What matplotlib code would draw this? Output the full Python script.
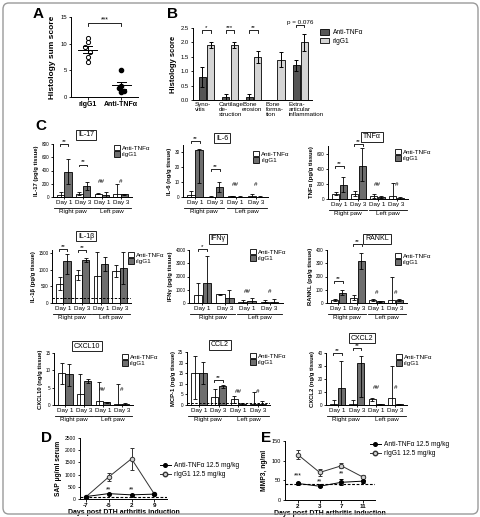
import matplotlib
matplotlib.use('Agg')
import matplotlib.pyplot as plt
from matplotlib.patches import FancyBboxPatch, Patch
from matplotlib.lines import Line2D
import numpy as np

plt.rcParams['font.family'] = ['Liberation Sans', 'DejaVu Sans']
plt.rcParams['axes.linewidth'] = 0.7
for a in ['xtick', 'ytick']:
    plt.rcParams[a + '.major.width'] = 0.6
    plt.rcParams[a + '.major.size'] = 1.8
    plt.rcParams[a + '.major.pad'] = 1

# ---------------- DATA ----------------
# Panel A
a_groups = ['rIgG1', 'Anti-TNFα']
a_rig = [11.1, 10.4, 9.4, 8.4, 7.5, 6.6]
a_anti = [5.0, 2.0, 1.6, 1.2, 1.0]

# Panel B
b_cats = ['Syno-\nvitis', 'Cartilage\nde-\nstruction', 'Bone\nerosion',
          'Bone\nforma-\ntion', 'Extra-\narticular\ninflammation']
b_anti = [0.8, 0.1, 0.1, 0.0, 1.2]
b_anti_err = [0.35, 0.1, 0.1, 0.0, 0.2]
b_rig = [1.9, 1.9, 1.5, 1.4, 2.0]
b_rig_err = [0.1, 0.1, 0.2, 0.25, 0.3]

# Panel C
c_days = ['Day 1', 'Day 3', 'Day 1', 'Day 3']
c_paws = ['Right paw', 'Left paw']

il17_anti = [35, 51, 51, 40]
il17_anti_err = [[35, 26, 10, 40], [40, 26, 10, 150]]
il17_rig = [383, 168, 36, 40]
il17_rig_err = [[190, 56, 36, 10], [194, 51, 40, 10]]

il6_anti = [1.6, 0.2, 0.7, 0.5]
il6_anti_err = [[1.6, 0.2, 0.7, 0.5], [2.2, 0.2, 0.3, 1.3]]
il6_rig = [31.6, 6.7, 0.3, 0.3]
il6_rig_err = [[22.1, 3.4, 0.3, 0.3], [0.6, 3.7, 0.3, 0.3]]

tnf_anti = [72, 72, 36, 40]
tnf_anti_err = [[18, 32, 20, 40], [18, 40, 27, 171]]
tnf_rig = [179, 435, 27, 9]
tnf_rig_err = [[80, 202, 15, 9], [108, 238, 18, 13]]

il1b_anti = [560, 860, 830, 960]
il1b_anti_err = [[160, 160, 830, 180], [220, 140, 700, 200]]
il1b_rig = [1260, 1300, 1180, 1060]
il1b_rig_err = [[380, 70, 220, 480], [220, 60, 220, 470]]

ifng_anti = [575, 650, 75, 100]
ifng_anti_err = [[575, 75, 75, 60], [925, 50, 175, 125]]
ifng_rig = [1500, 400, 150, 100]
ifng_rig_err = [[1500, 400, 150, 100], [2075, 600, 200, 225]]

rankl_anti = [20, 38, 20, 20]
rankl_anti_err = [[7, 18, 6, 20], [8, 20, 8, 177]]
rankl_rig = [78, 316, 13, 20]
rankl_rig_err = [[20, 63, 5, 6], [18, 64, 5, 8]]

cxcl10_anti = [9.1, 3.1, 1.15, 0.4]
cxcl10_anti_err = [[2.9, 3.1, 1.15, 0.4], [2.9, 5.7, 5.35, 5.6]]
cxcl10_rig = [8.8, 6.9, 0.8, 0.3]
cxcl10_rig_err = [[3.2, 0.65, 0.3, 0.2], [3.0, 0.6, 0.2, 0.2]]

ccl2_anti = [14.9, 3.9, 2.7, 0.5]
ccl2_anti_err = [[11.9, 3.9, 1.7, 0.5], [8.1, 3.6, 1.7, 5.5]]
ccl2_rig = [15.0, 9.0, 0.5, 0.5]
ccl2_rig_err = [[5.0, 1.0, 0.3, 0.4], [5.3, 0.4, 0.3, 1.5]]

cxcl2_anti = [0.8, 0.8, 4.4, 5.6]
cxcl2_anti_err = [[0.8, 0.8, 1.4, 5.6], [3.2, 3.0, 0.7, 24.4]]
cxcl2_rig = [13.3, 32.0, 0.5, 0.5]
cxcl2_rig_err = [[13.3, 25.6, 0.3, 0.3], [20.7, 5.7, 0.3, 0.3]]

# Panel D
d_days = ['-7', '-5', '2', '9']
d_anti = [100, 220, 170, 200]
d_anti_err = [15, 30, 25, 25]
d_rig = [80, 900, 1650, 200]
d_rig_err = [20, 150, 450, 30]
d_baseline = 100

# Panel E
e_days = ['2', '3', '7', '11']
e_anti = [42, 35, 45, 48]
e_anti_err = [3, 3, 8, 4]
e_rig = [115, 70, 87, 58]
e_rig_err = [12, 8, 6, 6]
e_baseline = 40

# ---------------- FIGURE ----------------
W, H = 481, 517
fig = plt.figure(figsize=(W / 100, H / 100), dpi=100)
fig.patches.append(FancyBboxPatch((3 / W, 3 / H), (W - 6) / W, (H - 6) / H,
                                  boxstyle='round,pad=0,rounding_size=0.012',
                                  transform=fig.transFigure, fc='none',
                                  ec='#9a9a9a', lw=1.0))


def add_ax(x0, x1, y0, y1):
    ax = fig.add_axes([x0 / W, 1 - y1 / H, (x1 - x0) / W, (y1 - y0) / H])
    ax.spines['top'].set_visible(False)
    ax.spines['right'].set_visible(False)
    ax.patch.set_alpha(0)
    return ax


def ftext(x, y, s, **kw):
    return fig.text(x / W, 1 - y / H, s, **kw)


def bracket(ax, x0, x1, y, txt, h, fs=4.5, lw=0.6):
    ax.plot([x0, x0, x1, x1], [y - h, y, y, y - h], color='k', lw=lw,
            clip_on=False)
    ax.text((x0 + x1) / 2, y, txt, ha='center', va='bottom', fontsize=fs,
            clip_on=False)


def letter(x, y, s):
    ftext(x, y, s, fontsize=11, fontweight='bold', ha='left', va='center')


# Panel A
letter(33, 14, 'A')
axA = add_ax(71, 138, 17, 97)
off_rig = [0.0, 0.0, -0.07, 0.07, 0.0, 0.0]
off_anti = [0.0, 0.0, -0.07, 0.07, 0.0]
axA.scatter(np.zeros(len(a_rig)) + off_rig, a_rig, s=9, facecolors='white',
            edgecolors='k', linewidths=0.7, zorder=3)
axA.scatter(np.ones(len(a_anti)) + off_anti, a_anti, s=9, color='k', zorder=3)
for i, vals in enumerate([a_rig, a_anti]):
    m = np.mean(vals)
    se = np.std(vals, ddof=1) / np.sqrt(len(vals))
    axA.plot([i - 0.28, i + 0.28], [m, m], color='k', lw=0.7, zorder=4)
    axA.plot([i, i], [m - se, m + se], color='k', lw=0.7, zorder=4)
    axA.plot([i - 0.13, i + 0.13], [m + se, m + se], color='k', lw=0.7, zorder=4)
    axA.plot([i - 0.13, i + 0.13], [m - se, m - se], color='k', lw=0.7, zorder=4)
axA.set_xlim(-0.5, 1.5)
axA.set_ylim(0, 15)
axA.set_yticks([0, 5, 10, 15])
axA.set_xticks([0, 1])
axA.set_xticklabels(a_groups, fontsize=5, fontweight='bold')
axA.tick_params(axis='y', labelsize=4.2)
axA.set_ylabel('Histology sum score', fontsize=6, fontweight='bold', labelpad=3)
bracket(axA, 0, 1, 13.8, '***', 0.5, fs=5)

# Panel B
letter(167, 14, 'B')
axB = add_ax(193, 312, 28, 100)
xb = np.arange(len(b_cats))
axB.bar(xb - 0.18, b_anti, 0.3, color='#555555', edgecolor='k', lw=0.6,
        yerr=b_anti_err, capsize=1.5, error_kw=dict(elinewidth=0.7, capthick=0.7))
axB.bar(xb + 0.18, b_rig, 0.3, color='#d4d4d4', edgecolor='k', lw=0.6,
        yerr=b_rig_err, capsize=1.5, error_kw=dict(elinewidth=0.7, capthick=0.7))
axB.set_xlim(-0.57, 4.5)
axB.set_ylim(0, 2.5)
axB.set_yticks([0, 0.5, 1.0, 1.5, 2.0, 2.5])
axB.set_yticklabels(['0.0', '0.5', '1.0', '1.5', '2.0', '2.5'])
axB.tick_params(axis='y', labelsize=4.2)
axB.set_xticks([])
for i, lab in enumerate(b_cats):
    axB.text(i - 0.48, -0.07, lab, ha='left', va='top', fontsize=4.5,
             linespacing=0.95)
axB.set_ylabel('Histology score', fontsize=5.5, fontweight='bold', labelpad=3)
bracket(axB, -0.18, 0.18, 2.42, '*', 0.08)
bracket(axB, 0.82, 1.18, 2.42, '***', 0.08)
bracket(axB, 1.82, 2.18, 2.42, '**', 0.08)
bracket(axB, 3.82, 4.18, 2.62, 'p = 0.076', 0.08)
axB.legend([Patch(fc='#555555', ec='k', lw=0.6), Patch(fc='#d4d4d4', ec='k', lw=0.6)],
           ['Anti-TNFα', 'rIgG1'], loc='upper left',
           bbox_to_anchor=(320 / W, 1 - 29 / H), bbox_transform=fig.transFigure,
           frameon=False, fontsize=4.8, handlelength=1.4, handleheight=0.9,
           labelspacing=0.25, handletextpad=0.5, borderpad=0, borderaxespad=0)

# Panel C
letter(35, 126, 'C')
RIG_C = '#6e6e6e'


def panel_c(box, anti, anti_err, rig, rig_err, ymax, yticks, title, title_xy,
            ylabel, sigs, hashes, leg_xy, dashed=None):
    x0, x1, y0, y1 = box
    ax = add_ax(x0, x1, y0, y1)
    xs = np.arange(4)
    ax.bar(xs - 0.2, anti, 0.38, color='white', edgecolor='k', lw=0.6, zorder=2)
    ax.bar(xs + 0.2, rig, 0.38, color=RIG_C, edgecolor='k', lw=0.6, zorder=2)
    ax.errorbar(xs - 0.2, anti, yerr=anti_err, fmt='none', ecolor='k',
                elinewidth=0.6, capsize=1.4, capthick=0.6, zorder=3)
    ax.errorbar(xs + 0.2, rig, yerr=rig_err, fmt='none', ecolor='k',
                elinewidth=0.6, capsize=1.4, capthick=0.6, zorder=3)
    if dashed is not None:
        ax.axhline(dashed, ls=(0, (2.5, 1.5)), color='k', lw=0.7, zorder=4)
    ax.set_xlim(-0.6, 3.6)
    ax.set_ylim(0, ymax)
    ax.set_yticks(yticks)
    ax.tick_params(axis='y', labelsize=3.3, length=1.5)
    ax.set_xticks(xs)
    ax.set_xticklabels(c_days, fontsize=4.5)
    ax.tick_params(axis='x', length=1.5, pad=0.5)
    ax.set_ylabel(ylabel, fontsize=4.2, fontweight='bold', labelpad=2)
    hpx = y1 - y0
    trans = ax.get_xaxis_transform()
    ty = -10.5 / hpx
    for (a, b), lab in zip([(-0.55, 1.45), (1.55, 3.55)], c_paws):
        ax.plot([a, b], [ty, ty], transform=trans, color='k', lw=0.6,
                clip_on=False)
        ax.text((a + b) / 2, ty - 1.0 / hpx, lab, transform=trans, ha='center',
                va='top', fontsize=4.5)
    for i, y, s in sigs:
        bracket(ax, i - 0.22, i + 0.22, y, s, ymax * 0.035)
    for i, y, s in hashes:
        ax.text(i, y, s, ha='center', va='center', fontsize=4.5)
    ftext(title_xy[0], title_xy[1], title, ha='center', va='center', fontsize=5,
          bbox=dict(boxstyle='square,pad=0.25', fc='white', ec='k', lw=0.6))
    ax.legend([Patch(fc='white', ec='k', lw=0.6), Patch(fc=RIG_C, ec='k', lw=0.6)],
              ['Anti-TNFα', 'rIgG1'], loc='upper left',
              bbox_to_anchor=(leg_xy[0] / W, 1 - leg_xy[1] / H),
              bbox_transform=fig.transFigure, frameon=False, fontsize=4.5,
              handlelength=0.9, handleheight=0.9, labelspacing=0.1,
              handletextpad=0.4, borderpad=0, borderaxespad=0)
    return ax


panel_c((53, 132, 144, 197), il17_anti, il17_anti_err, il17_rig, il17_rig_err,
        800, [0, 200, 400, 600, 800], 'IL-17', (86, 135), 'IL-17 (pg/g tissue)',
        [(0, 800, '**'), (1, 490, '**')], [(2, 240, '##'), (3, 240, '#')],
        (114, 145))
panel_c((183, 268, 145, 197), il6_anti, il6_anti_err, il6_rig, il6_rig_err,
        35, [0, 10, 20, 30], 'IL-6', (222, 138), 'IL-6 (ng/g tissue)',
        [(0, 37.5, '**'), (1, 19, '**')], [(2, 8.5, '##'), (3, 8.5, '#')],
        (253, 151))
panel_c((328, 408, 146, 199), tnf_anti, tnf_anti_err, tnf_rig, tnf_rig_err,
        700, [0, 200, 400, 600], 'TNFα', (372, 137), 'TNFα (pg/g tissue)',
        [(0, 440, '**'), (1, 720, '**')], [(2, 185, '##'), (3, 185, '#')],
        (395, 149))
panel_c((52, 131, 250, 303), il1b_anti, il1b_anti_err, il1b_rig, il1b_rig_err,
        1600, [0, 500, 1000, 1500], 'IL-1β', (86, 236), 'IL-1β (pg/g tissue)',
        [(0, 1620, '**'), (1, 1590, '**')], [], (128, 252), dashed=160)
panel_c((189, 283, 250, 303), ifng_anti, ifng_anti_err, ifng_rig, ifng_rig_err,
        4000, [0, 1000, 2000, 3000, 4000], 'IFNγ', (218, 239),
        'IFNγ (pg/g tissue)', [(0, 4050, '*')],
        [(2, 850, '##'), (3, 850, '#')], (250, 249))
panel_c((327, 407, 250, 303), rankl_anti, rankl_anti_err, rankl_rig, rankl_rig_err,
        400, [0, 100, 200, 300, 400], 'RANKL', (377, 239),
        'RANKL (pg/g tissue)', [(0, 165, '**'), (1, 445, '**')],
        [(2, 80, '#'), (3, 80, '#')], (395, 253))
panel_c((54, 133, 353, 405), cxcl10_anti, cxcl10_anti_err, cxcl10_rig,
        cxcl10_rig_err, 15, [0, 5, 10, 15], 'CXCL10', (87, 346),
        'CXCL10 (ng/g tissue)', [], [(2, 4.6, '##'), (3, 4.6, '#')], (122, 354))
panel_c((187, 270, 352, 405), ccl2_anti, ccl2_anti_err, ccl2_rig, ccl2_rig_err,
        25, [0, 5, 10, 15, 20, 25], 'CCL2', (220, 345), 'MCP-1 (ng/g tissue)',
        [(1, 11.7, '**')], [(2, 6.2, '##'), (3, 6.2, '#')], (250, 353),
        dashed=0.8)
panel_c((326, 407, 353, 405), cxcl2_anti, cxcl2_anti_err, cxcl2_rig,
        cxcl2_rig_err, 40, [0, 10, 20, 30, 40], 'CXCL2', (362, 338),
        'CXCL2 (ng/g tissue)', [(0, 40, '**'), (1, 44, '**')],
        [(2, 13.5, '##'), (3, 13.5, '#')], (396, 354))

# Panels D and E
leg_h = [Line2D([], [], color='k', marker='o', ms=2.6, lw=0.7),
         Line2D([], [], color='#333333', marker='o', ms=3.2, mfc='#d0d0d0',
                mec='#333333', lw=0.7)]
leg_labels = ['Anti-TNFα 12.5 mg/kg', 'rIgG1 12.5 mg/kg']


def line_panel(ax, days, anti, anti_err, rig, rig_err, base):
    xs = np.arange(len(days))
    ax.axhline(base, ls=(0, (2.5, 1.5)), color='k', lw=0.8, zorder=1)
    ax.errorbar(xs, rig, yerr=rig_err, color='#333333', marker='o', ms=3.2,
                mfc='#d0d0d0', mec='#333333', mew=0.7, lw=0.7, capsize=1.5,
                elinewidth=0.7, capthick=0.7, zorder=3)
    ax.errorbar(xs, anti, yerr=anti_err, color='k', marker='o', ms=2.6, lw=0.7,
                capsize=1.5, elinewidth=0.7, capthick=0.7, zorder=4)
    ax.set_xticks(xs)
    ax.set_xticklabels(days, fontsize=4.5, fontweight='bold')
    ax.set_xlabel('Days post DTH arthritis induction', fontsize=5,
                  fontweight='bold', labelpad=0.5)


letter(41, 438, 'D')
axD = add_ax(80, 167, 438, 499)
line_panel(axD, d_days, d_anti, d_anti_err, d_rig, d_rig_err, d_baseline)
axD.set_xlim(-0.25, 3.55)
axD.set_ylim(0, 2500)
axD.set_yticks([0, 500, 1000, 1500, 2000, 2500])
axD.tick_params(axis='y', labelsize=3.6)
axD.set_ylabel('SAP μg/ml serum', fontsize=4.8, fontweight='bold', labelpad=2)
axD.text(1, 390, '**', ha='center', va='center', fontsize=4.8)
axD.text(2, 390, '**', ha='center', va='center', fontsize=4.8)
axD.legend(leg_h, leg_labels, loc='upper left',
           bbox_to_anchor=(160 / W, 1 - 462 / H), bbox_transform=fig.transFigure,
           frameon=False, fontsize=4.8, handlelength=1.6, labelspacing=0.3,
           handletextpad=0.5, borderpad=0, borderaxespad=0)

letter(261, 438, 'E')
axE = add_ax(285, 375, 441, 500)
line_panel(axE, e_days, e_anti, e_anti_err, e_rig, e_rig_err, e_baseline)
axE.set_xlim(-0.6, 3.55)
axE.set_ylim(0, 150)
axE.set_yticks([0, 50, 100, 150])
axE.tick_params(axis='y', labelsize=4)
axE.set_ylabel('MMP3, ng/ml', fontsize=4.8, fontweight='bold', labelpad=3)
axE.text(0, 62, '***', ha='center', va='center', fontsize=4.8)
axE.text(1, 46, '**', ha='center', va='center', fontsize=4.8)
axE.text(2, 66, '**', ha='center', va='center', fontsize=4.8)
axE.legend(leg_h, leg_labels, loc='upper left',
           bbox_to_anchor=(370 / W, 1 - 441 / H), bbox_transform=fig.transFigure,
           frameon=False, fontsize=4.8, handlelength=1.6, labelspacing=0.3,
           handletextpad=0.5, borderpad=0, borderaxespad=0)

fig.savefig('out.png', dpi=100)
